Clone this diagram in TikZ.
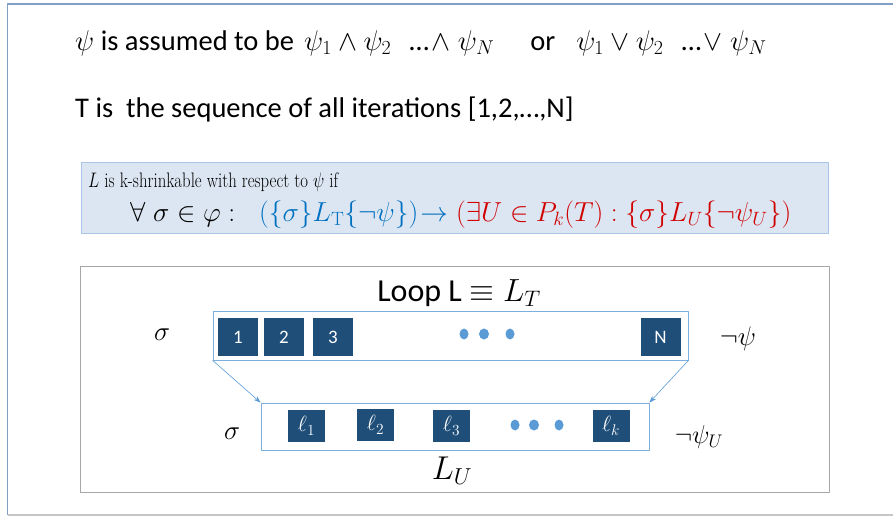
\documentclass[tikz,border=0pt]{standalone}
\usepackage{fix-cm}
\usepackage{amsmath,amssymb}
\usepackage{fontspec}
\setsansfont{Carlito}
\usepackage{xcolor}
\usetikzlibrary{positioning,calc,arrows.meta}
\definecolor{navy}{HTML}{1F4E79}
\definecolor{dotblue}{HTML}{5B9BD5}
\definecolor{boxfill}{HTML}{DCE6F2}
\definecolor{boxline}{HTML}{A9C4E4}
\definecolor{frameblue}{HTML}{7F9FC4}
\definecolor{formblue}{HTML}{0070C0}
\definecolor{formred}{HTML}{D00000}

\begin{document}
\begin{tikzpicture}[x=1pt,y=-1pt,>={Stealth[length=7pt,width=5pt]},line join=round,
    itbox/.style={fill=navy,text=white,minimum width=40pt,minimum height=38pt,inner sep=0pt,font=\sffamily\fontsize{19}{22}\selectfont},
    ellbox/.style={fill=navy,text=white,minimum width=37pt,minimum height=32pt,inner sep=0pt,font=\fontsize{22}{24}\selectfont},
    seqbox/.style={draw=dotblue!80,line width=0.8pt,inner sep=0pt},
    side/.style={inner sep=0pt,font=\fontsize{27}{30}\selectfont},
    formula/.style={inner sep=0pt,font=\fontsize{27.5}{32}\selectfont},
    txt/.style={anchor=west,inner sep=0pt,font=\sffamily\fontsize{28.5}{32}\selectfont}]
  \useasboundingbox (0,0) rectangle (893,518);
  % slide frame
  \draw[frameblue,line width=1.6pt] (7.5,515) -- (7.5,4) -- (893,4);
  \draw[gray!45,line width=1.6pt] (7.5,515) -- (893,515);
  % header lines
  \node[txt] (head1) at (75,43) {$\psi$ is assumed to be\hspace{10pt}$\psi_1\wedge\psi_2$\hspace{18pt}…$\hspace{2pt}\wedge\;\psi_N$\hspace{36pt}or\hspace{21pt}$\psi_1\vee\psi_2$\hspace{18pt}…$\hspace{2pt}\vee\;\psi_N$};
  \node[txt] (head2) at (75,110) {T is~ the sequence of all iterations [1,2,…,N]};
  % definition box
  \draw[boxline,fill=boxfill,line width=1pt] (81,163) rectangle (828,234);
  \node[anchor=west,inner sep=0pt,font=\fontsize{21}{24}\selectfont] (def1) at (88,182)
    {\scalebox{0.8}[1]{$L$ is k-shrinkable with respect to $\psi$ if}};
  \node[formula,anchor=west] (defq) at (130,215) {$\forall\;\sigma\in\varphi:$};
  \node[formula,anchor=west,text=formblue] (defl) at (259,215)
    {$(\{\sigma\}L_{\mathrm{T}}\{\neg\psi\})$\hspace{2pt}$\rightarrow$};
  \node[formula,anchor=west,text=formred] (defr) at (456,215)
    {$(\exists U\in P_k(T):\{\sigma\}L_U\{\neg\psi_U\})$};
  % loop picture
  \draw[gray!70,line width=1pt] (80,267) rectangle (829,492);
  \node[inner sep=0pt,font=\sffamily\fontsize{32}{36}\selectfont] (title) at (459,293) {Loop L $\equiv L_T$};
  \node[seqbox,minimum width=475pt,minimum height=49pt] (full) at (450.5,335.5) {};
  \node[itbox] (it1) at (238,337) {1};
  \node[itbox] (it2) at (284,337) {2};
  \node[itbox] (it3) at (333,337) {3};
  \node[itbox] (itN) at (660.5,337) {N};
  \foreach \x/\r in {464/4.5,484/5,510/4.5}
    \fill[dotblue] (\x,334) ellipse (\r pt and 5.5pt);
  \node[side] (pre1) at (162,335) {$\sigma$};
  \node[side] (post1) at (738,339) {$\neg\psi$};
  \node[seqbox,minimum width=388pt,minimum height=47pt] (part) at (455,426.5) {};
  \node[ellbox] (l1) at (306.5,426) {$\ell_1$};
  \node[ellbox] (l2) at (375.5,425) {$\ell_2$};
  \node[ellbox] (l3) at (451.5,426) {$\ell_3$};
  \node[ellbox] (lk) at (611,426) {$\ell_k$};
  \foreach \x/\r in {515/4.5,534/5,559/4.5}
    \fill[dotblue] (\x,425) ellipse (\r pt and 5.5pt);
  \node[side] (pre2) at (232,434) {$\sigma$};
  \node[side,font=\fontsize{26}{30}\selectfont] (post2) at (699,437) {$\neg\psi_U$};
  \node[inner sep=0pt,font=\fontsize{33}{36}\selectfont] (lu) at (452,471) {$L_U$};
  \draw[->,dotblue,line width=0.6pt] (full.south west) -- (part.north west);
  \draw[->,dotblue,line width=0.6pt] (full.south east) -- (part.north east);
\end{tikzpicture}
\end{document}
